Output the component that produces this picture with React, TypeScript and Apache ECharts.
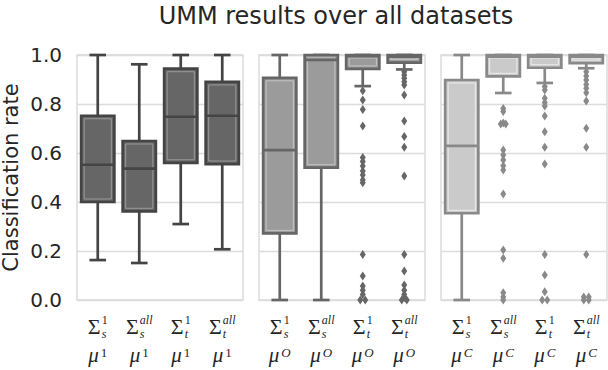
import React, { useEffect, useRef } from "react";
import * as echarts from "echarts";

// ---------- data ----------
const titleText = "UMM results over all datasets";
const yAxisLabel = "Classification rate";
const categories = ["S1", "Sall", "T1", "Tall"];
const sigmaSub = ["s", "s", "t", "t"];
const sigmaSup = ["1", "all", "1", "all"];
const panelMuSup = ["1", "O", "C"];

// each box: [lowWhisker, Q1, median, Q3, highWhisker]
const boxesMu1 = [
  [0.163, 0.4, 0.552, 0.752, 1.0],
  [0.151, 0.362, 0.536, 0.649, 0.962],
  [0.31, 0.56, 0.748, 0.944, 1.0],
  [0.207, 0.555, 0.752, 0.89, 1.0],
];
const boxesMuO = [
  [0.0, 0.272, 0.612, 0.907, 1.0],
  [0.0, 0.54, 0.98, 1.0, 1.0],
  [0.873, 0.943, 0.995, 1.0, 1.0],
  [0.941, 0.969, 0.993, 1.0, 1.0],
];
const boxesMuC = [
  [0.0, 0.354, 0.629, 0.898, 1.0],
  [0.845, 0.913, 0.993, 1.0, 1.0],
  [0.886, 0.948, 0.993, 1.0, 1.0],
  [0.946, 0.967, 0.993, 1.0, 1.0],
];

const outliersMu1: number[][] = [[], [], [], []];
const outliersMuO: number[][] = [
  [],
  [],
  [0.854, 0.816, 0.778, 0.71, 0.582, 0.565, 0.547, 0.527, 0.51, 0.49, 0.479, 0.186, 0.098, 0.057, 0.04, 0.022, 0, 0],
  [0.932, 0.918, 0.905, 0.891, 0.878, 0.837, 0.731, 0.667, 0.623, 0.506, 0.186, 0.118, 0.061, 0.04, 0.022, 0, 0.01, 0],
];
const outliersMuC: number[][] = [
  [],
  [0.782, 0.769, 0.718, 0.722, 0.718, 0.612, 0.592, 0.571, 0.548, 0.531, 0.433, 0.204, 0.17, 0.03, 0.012, 0],
  [0.871, 0.857, 0.823, 0.806, 0.792, 0.751, 0.687, 0.623, 0.555, 0.186, 0.102, 0.034, 0, 0],
  [0.932, 0.914, 0.898, 0.88, 0.864, 0.846, 0.812, 0.701, 0.623, 0.186, 0, 0.012, 0.012, 0],
];

const panelBoxes = [boxesMu1, boxesMuO, boxesMuC];
const panelOutliers = [outliersMu1, outliersMuO, outliersMuC];

// ---------- styles ----------
const panelFill = ["#666666", "#9b9b9b", "#cacaca"];
const panelLine = ["#444444", "#666666", "#898989"];
const panelInner = ["#9a9a9a", "#c4c4c4", "#ececec"];
const gridLeft = [77, 259, 441];
const gridTop = 55;
const gridW = 166;
const gridH = 245;
const textColor = "#262626";
const sansFont = "DejaVu Sans";
const mathFont = "Liberation Serif";

function makeRenderBox(fill: string, line: string, inner: string) {
  return (params: any, api: any) => {
    const i = api.value(0);
    const pLow = api.coord([i, api.value(1)]);
    const pQ1 = api.coord([i, api.value(2)]);
    const pMed = api.coord([i, api.value(3)]);
    const pQ3 = api.coord([i, api.value(4)]);
    const pHigh = api.coord([i, api.value(5)]);
    const band = api.size([1, 0])[0];
    const bw = band * 0.8;
    const cx = pQ1[0];
    const lw = 2.7;
    const ls = { stroke: line, lineWidth: lw };
    const children: any[] = [
      { type: "line", shape: { x1: cx, y1: pQ3[1], x2: cx, y2: pHigh[1] }, style: ls },
      { type: "line", shape: { x1: cx, y1: pQ1[1], x2: cx, y2: pLow[1] }, style: ls },
      { type: "line", shape: { x1: cx - bw / 4, y1: pHigh[1], x2: cx + bw / 4, y2: pHigh[1] }, style: ls },
      { type: "line", shape: { x1: cx - bw / 4, y1: pLow[1], x2: cx + bw / 4, y2: pLow[1] }, style: ls },
      {
        type: "rect",
        shape: { x: cx - bw / 2, y: pQ3[1], width: bw, height: pQ1[1] - pQ3[1] },
        style: { fill, stroke: line, lineWidth: lw },
      },
    ];
    const ih = pQ1[1] - pQ3[1] - 6;
    if (ih > 0) {
      children.push({
        type: "rect",
        shape: { x: cx - bw / 2 + 3, y: pQ3[1] + 3, width: bw - 6, height: ih },
        style: { fill: "none", stroke: inner, lineWidth: 1 },
      });
    }
    children.push({
      type: "line",
      shape: { x1: cx - bw / 2, y1: pMed[1], x2: cx + bw / 2, y2: pMed[1] },
      style: ls,
    });
    return { type: "group", children };
  };
}

function outlierData(list: number[][]) {
  const out: any[] = [];
  list.forEach((vals, i) => {
    const groups: Record<string, number[]> = {};
    vals.forEach((v, k) => {
      const key = String(v);
      (groups[key] = groups[key] || []).push(k);
    });
    vals.forEach((v, k) => {
      const g = groups[String(v)];
      const idx = g.indexOf(k);
      const dx = (idx - (g.length - 1) / 2) * 5;
      out.push({ value: [i, v], symbolOffset: [dx, 0] });
    });
  });
  return out;
}

export default function App() {
  const ref = useRef<HTMLDivElement>(null);
  useEffect(() => {
    if (!ref.current) return;
    const chart = echarts.init(ref.current, undefined, { renderer: "svg" });
    const grids = gridLeft.map((l) => ({
      left: l,
      top: gridTop,
      width: gridW,
      height: gridH,
      show: true,
      borderColor: "#d6d6d6",
      borderWidth: 1.3,
      backgroundColor: "transparent",
    }));
    const xAxes = gridLeft.map((_, g) => ({
      type: "category",
      gridIndex: g,
      data: categories,
      axisLabel: { show: false },
      axisTick: { show: false },
      axisLine: { show: false },
    }));
    const yAxes = gridLeft.map((_, g) => ({
      type: "value",
      gridIndex: g,
      min: 0,
      max: 1,
      interval: 0.2,
      axisLine: { show: false },
      axisTick: { show: false },
      splitLine: { show: true, lineStyle: { color: "#dcdcdc", width: 1.3 } },
      axisLabel: {
        show: g === 0,
        fontSize: 20,
        fontFamily: sansFont,
        color: textColor,
        margin: 15,
        padding: [7, 0, 0, 0],
        formatter: (v: number) => v.toFixed(1),
      },
    }));
    const series: any[] = [];
    panelBoxes.forEach((boxes, g) => {
      series.push({
        type: "custom",
        xAxisIndex: g,
        yAxisIndex: g,
        clip: false,
        renderItem: makeRenderBox(panelFill[g], panelLine[g], panelInner[g]),
        encode: { x: 0, y: [1, 2, 3, 4, 5] },
        data: boxes.map((b, i) => [i, ...b]),
        z: 2,
      });
      series.push({
        type: "scatter",
        xAxisIndex: g,
        yAxisIndex: g,
        symbol: "diamond",
        symbolSize: [6, 9],
        itemStyle: { color: panelLine[g], opacity: 1 },
        data: outlierData(panelOutliers[g]),
        z: 3,
      });
    });
    chart.setOption({
      animation: false,
      backgroundColor: "#ffffff",
      grid: grids,
      xAxis: xAxes,
      yAxis: yAxes,
      series,
    });

    // texts
    const ctx = document.createElement("canvas").getContext("2d")!;
    const measure = (t: string, font: string) => {
      ctx.font = font;
      return ctx.measureText(t).width;
    };
    const sigmaSize = 22;
    const muSize = 21;
    const smallSize = 13;
    const scriptSize = 12;
    const graphic: any[] = [];
    const gridCenterX = gridLeft[1] + gridW / 2;
    graphic.push({
      type: "text",
      x: gridCenterX - 6,
      y: 16,
      style: {
        text: titleText,
        fontSize: 24,
        fontFamily: sansFont,
        fill: textColor,
        align: "center",
        verticalAlign: "middle",
      },
    });
    graphic.push({
      type: "text",
      x: 11,
      y: gridTop + gridH / 2,
      rotation: Math.PI / 2,
      style: {
        text: yAxisLabel,
        fontSize: 21,
        fontFamily: sansFont,
        fill: textColor,
        align: "center",
        verticalAlign: "middle",
      },
    });
    const isItalic = (s: string) => !/^[0-9]+$/.test(s);
    panelMuSup.forEach((muSup, g) => {
      categories.forEach((_, i) => {
        const cx = chart.convertToPixel({ xAxisIndex: g } as any, i) as any as number;
        const sup = sigmaSup[i];
        const sub = sigmaSub[i];
        const supFont = `${isItalic(sup) ? "italic " : ""}${scriptSize}px "${mathFont}"`;
        const subFont = `italic ${scriptSize}px "${mathFont}"`;
        const wS = measure("\u03A3", `${sigmaSize}px "${mathFont}"`);
        const sw = Math.max(measure(sup, supFont), measure(sub, subFont));
        const total = wS + 1 + sw;
        const left = cx - total / 2;
        graphic.push({
          type: "text",
          x: left,
          y: 326,
          style: { text: "\u03A3", fontSize: sigmaSize, fontFamily: mathFont, fill: textColor, align: "left", verticalAlign: "middle" },
        });
        graphic.push({
          type: "text",
          x: left + wS + 1,
          y: 319.5,
          style: { text: sup, fontSize: scriptSize, fontFamily: mathFont, fontStyle: isItalic(sup) ? "italic" : "normal", fill: textColor, align: "left", verticalAlign: "middle" },
        });
        graphic.push({
          type: "text",
          x: left + wS + 1,
          y: 333.5,
          style: { text: sub, fontSize: scriptSize, fontFamily: mathFont, fontStyle: "italic", fill: textColor, align: "left", verticalAlign: "middle" },
        });
        // mu row
        const muFont = `italic ${muSize}px "${mathFont}"`;
        const mSupFont = `${isItalic(muSup) ? "italic " : ""}${smallSize}px "${mathFont}"`;
        const wM = measure("\u03BC", muFont);
        const wMS = measure(muSup, mSupFont);
        const totM = wM + 2 + wMS;
        const leftM = cx - totM / 2;
        graphic.push({
          type: "text",
          x: leftM,
          y: 355,
          style: { text: "\u03BC", fontSize: muSize, fontFamily: mathFont, fontStyle: "italic", fill: textColor, align: "left", verticalAlign: "middle" },
        });
        graphic.push({
          type: "text",
          x: leftM + wM + 2,
          y: 352,
          style: { text: muSup, fontSize: smallSize, fontFamily: mathFont, fontStyle: isItalic(muSup) ? "italic" : "normal", fill: textColor, align: "left", verticalAlign: "middle" },
        });
      });
    });
    chart.setOption({ graphic });
    return () => chart.dispose();
  }, []);
  return (
    <div
      ref={ref}
      style={{ position: "absolute", left: 0, top: 0, width: 608, height: 370 }}
    />
  );
}
